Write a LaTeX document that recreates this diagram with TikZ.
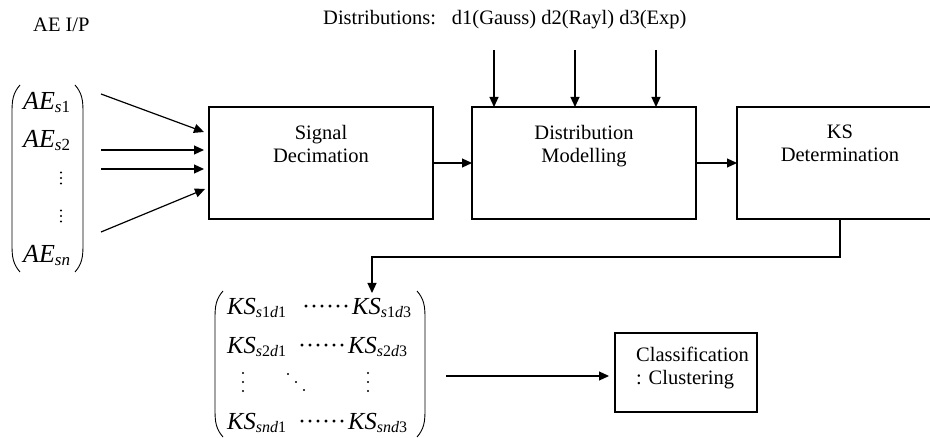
\documentclass[tikz,border=0pt]{standalone}
\usepackage{fontspec}
\setmainfont{Liberation Serif}
\usetikzlibrary{arrows.meta,calc}
\newcommand{\AEe}[1]{{\fontsize{26}{26}\selectfont\itshape AE}\raisebox{-3pt}{\fontsize{17}{17}\selectfont #1}}
\newcommand{\KSe}[1]{{\fontsize{24.5}{24.5}\selectfont\itshape KS}\raisebox{-3pt}{\fontsize{16}{16}\selectfont #1}}
\newcommand{\dotrow}{\hbox to 48pt{\xleaders\hbox to 8pt{\hss\fontsize{24}{24}\selectfont\textperiodcentered\hss}\hfil}}
\tikzset{
  box/.style={draw, line width=1.3pt, minimum width=224pt, minimum height=112pt, inner sep=0pt, outer sep=0pt},
  txt/.style={font=\fontsize{20.5}{23}\selectfont, inner sep=0pt, align=center},
  arr/.style={line width=1.2pt, -{Triangle[length=10pt,width=9pt]}},
  paren/.style={line width=0.9pt},
  ent/.style={anchor=base west, inner sep=0pt},
  vdts/.style={insert path={+(0,-#1) circle[radius=1.1pt] +(0,0) circle[radius=1.1pt] +(0,#1) circle[radius=1.1pt]}},
}
\begin{document}
\begin{tikzpicture}[x=1pt,y=-1pt]
\useasboundingbox (0,0) rectangle (930,438);
% top labels
\node[txt, anchor=base west] (aeip) at (33,32) {AE I/P};
\node[txt, anchor=base west] (distlab) at (323,25) {Distributions:\hspace{16pt}d1(Gauss) d2(Rayl) d3(Exp)};
% boxes
\node[box] (sig) at (321,163) {};
\node[txt, anchor=north] (sigt) at (321,125) {Signal\\Decimation};
\node[box] (dist) at (584,163) {};
\node[txt, anchor=north] (distt) at (584,125) {Distribution\\Modelling};
\node[box, minimum width=206pt] (ks) at (840,163) {};
\node[txt, anchor=north] (kst) at (840,125) {KS\\Determination};
\node[draw, line width=1.3pt, minimum width=142pt, minimum height=79pt, inner sep=0pt, outer sep=0pt] (cls) at (686,372.5) {};
\node[txt, align=left, anchor=north west] (clst) at (636,347) {Classification\\: Clustering};
% distribution arrows
\coordinate (da1) at (494,50);
\coordinate (da2) at (575,50);
\coordinate (da3) at (656,50);
\draw[arr] (da1) -- (da1 |- dist.north);
\draw[arr] (da2) -- (da2 |- dist.north);
\draw[arr] (da3) -- (da3 |- dist.north);
% box to box
\draw[arr] (sig.east) -- (dist.west);
\draw[arr] (dist.east) -- (ks.west);
% AE matrix
\node[ent] (ae1) at (23,110) {\AEe{\textit{s}1}};
\node[ent] (ae2) at (23,148) {\AEe{\textit{s}2}};
\fill (61,178) [vdts=5.5];
\fill (61,216) [vdts=5.5];
\node[ent] (aen) at (23,263) {\AEe{\textit{sn}}};
\draw[paren] (20,85) .. controls (13,93) and (12,100) .. (12,112) -- (12,245) .. controls (12,257) and (13,264) .. (20,272);
\draw[paren] (75,85) .. controls (82,93) and (83,100) .. (83,112) -- (83,245) .. controls (83,257) and (82,264) .. (75,272);
% AE arrows
\coordinate (aa1) at (101,94);
\coordinate (aa2) at (101,150);
\coordinate (aa3) at (101,169);
\coordinate (aa4) at (101,232);
\draw[arr] (aa1) -- ($(sig.west)+(-5,-31)$);
\draw[arr] (aa2) -- ($(sig.west)+(-5,-13)$);
\draw[arr] (aa3) -- ($(sig.west)+(-5,6)$);
\draw[arr] (aa4) -- ($(sig.west)+(-4,26)$);
% KS matrix
\draw[paren] (223,291) .. controls (216,299) and (215,306) .. (215,318) -- (215,410) .. controls (215,422) and (216,429) .. (223,437);
\draw[paren] (417,291) .. controls (424,299) and (425,306) .. (425,318) -- (425,410) .. controls (425,422) and (424,429) .. (417,437);
\node[ent] (k11) at (227,315) {\KSe{\textit{s}1\textit{d}1}};
\node[ent] (c1) at (302,315) {\dotrow};
\node[ent] (k13) at (352,315) {\KSe{\textit{s}1\textit{d}3}};
\node[ent] (k21) at (227,354) {\KSe{\textit{s}2\textit{d}1}};
\node[ent] (c2) at (298,354) {\dotrow};
\node[ent] (k23) at (348,354) {\KSe{\textit{s}2\textit{d}3}};
\fill (243,382) [vdts=9];
\fill (368,382) [vdts=9];
\fill (288,374) circle[radius=1.1pt] (296,382) circle[radius=1.1pt] (304,390) circle[radius=1.1pt];
\node[ent] (k41) at (227,430) {\KSe{\textit{snd}1}};
\node[ent] (c4) at (298,430) {\dotrow};
\node[ent] (k43) at (348,430) {\KSe{\textit{snd}3}};
% feedback
\coordinate (fb1) at (840,257);
\coordinate (fb2) at (372,257);
\coordinate (fbend) at (372,293);
\draw[arr] (ks.south) -- (fb1) -- (fb2) -- (fbend);
% to classification
\coordinate (mo) at (446,376);
\draw[arr, shorten >=6pt] (mo) -- (mo -| cls.west);
\end{tikzpicture}
\end{document}
